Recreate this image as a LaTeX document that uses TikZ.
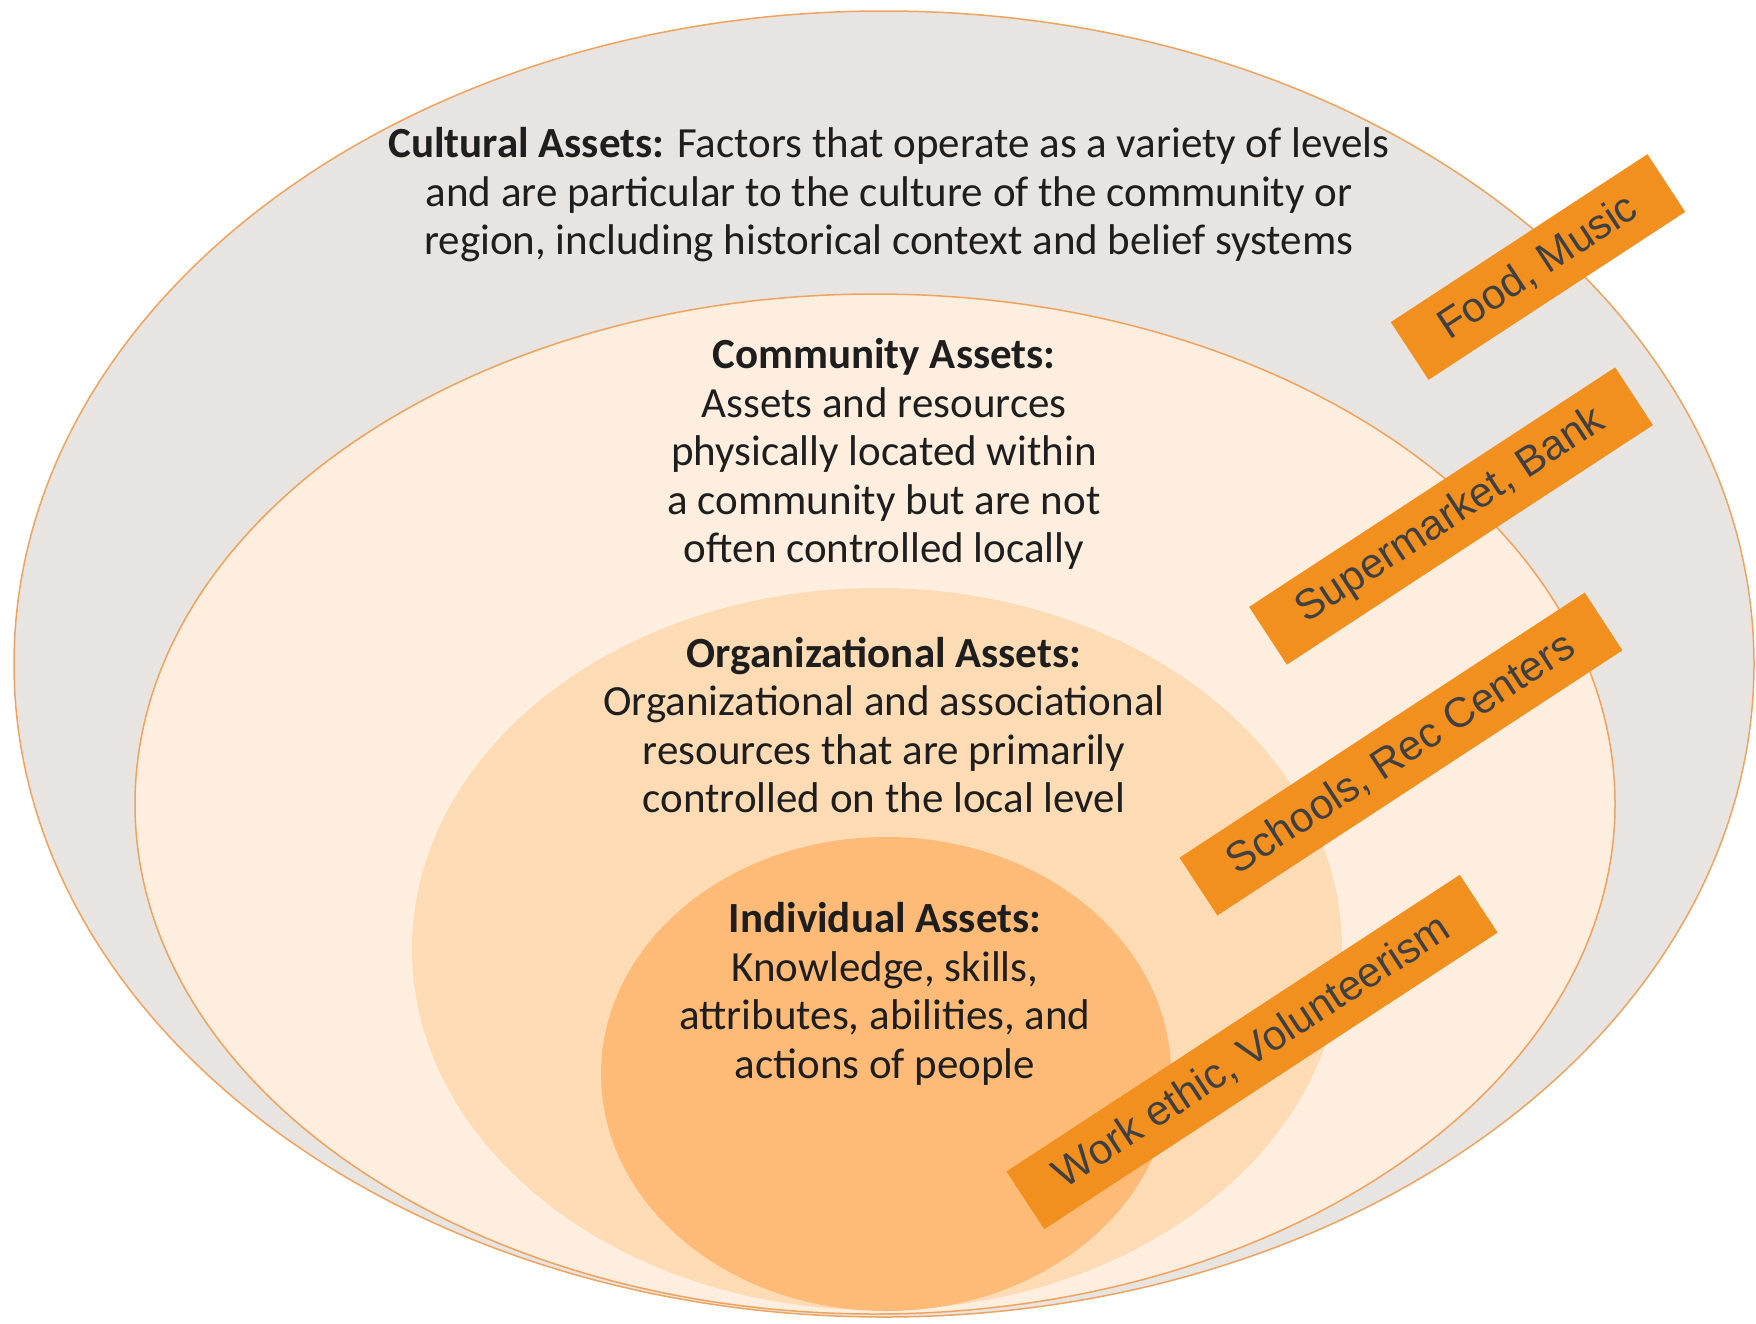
\documentclass[tikz,border=0pt]{standalone}
\usepackage{fontspec}
\setmainfont{Carlito}
\newfontfamily\tagfont{Liberation Sans}
\usepackage{tikz}
\usetikzlibrary{shapes.geometric}
\definecolor{ringline}{HTML}{EFA35C}
\definecolor{culturalfill}{HTML}{E8E4E1}
\definecolor{communityfill}{HTML}{FEEEDF}
\definecolor{orgfill}{HTML}{FDDBB5}
\definecolor{indfill}{HTML}{FDBB77}
\definecolor{tagorange}{HTML}{F2901F}
\definecolor{tagtext}{HTML}{404040}
\definecolor{bodytext}{HTML}{1E1E1E}

\begin{document}
\begin{tikzpicture}[x=1pt,y=-1pt,
    ring/.style={ellipse,inner sep=0pt,draw=ringline,line width=1.5pt},
    blob/.style={ellipse,inner sep=0pt},
    desc/.style={align=center,text=bodytext,font=\fontsize{43}{48.5}\selectfont},
    tag/.style={fill=tagorange,text=tagtext,rotate=33.2,inner xsep=39pt,inner ysep=0pt,
      minimum height=69pt,font=\tagfont\fontsize{42}{42}\selectfont}]
  \useasboundingbox (0,0) rectangle (1756,1323);
  % rings
  \node[ring,fill=culturalfill,minimum width=1740pt,minimum height=1306pt] (cultural) at (884,664) {};
  \node[ring,fill=communityfill,minimum width=1480pt,minimum height=1020pt] (community) at (875,804) {};
  \node[blob,fill=orgfill,minimum width=930pt,minimum height=722pt] (org) at (877,949) {};
  \node[blob,fill=indfill,minimum width=570pt,minimum height=474pt] (ind) at (886,1074) {};
  % texts
  \node[desc] (culturaltext) at (889,195) {\textbf{Cultural Assets:} Factors that operate as a variety of levels\\
    and are particular to the culture of the community or\\
    region, including historical context and belief systems};
  \node[desc] (communitytext) at (884,454) {\textbf{Community Assets:}\\ Assets and resources\\
    physically located within\\ a community but are not\\ often controlled locally};
  \node[desc] (orgtext) at (884,725) {\textbf{Organizational Assets:}\\ Organizational and associational\\
    resources that are primarily\\ controlled on the local level};
  \node[desc] (indtext) at (885,994) {\textbf{Individual Assets:}\\ Knowledge, skills,\\
    attributes, abilities, and\\ actions of people};
  % tags
  \node[tag] (food) at (1538,267) {Food, Music};
  \node[tag] (market) at (1451,516) {Supermarket, Bank};
  \node[tag] (schools) at (1401,754) {Schools, Rec Centers};
  \node[tag] (work) at (1252,1052) {Work ethic, Volunteerism};
\end{tikzpicture}
\end{document}
